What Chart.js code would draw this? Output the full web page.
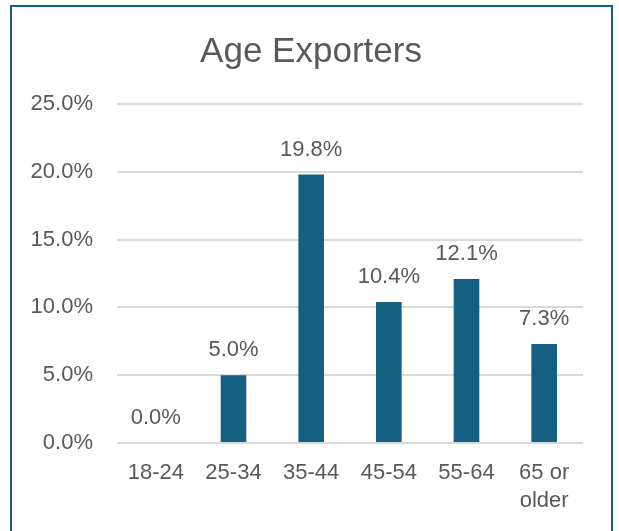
<!DOCTYPE html>
<html>
<head>
<meta charset="utf-8">
<title>Age Exporters</title>
<script src="https://cdn.jsdelivr.net/npm/chart.js@4.4.1/dist/chart.umd.min.js"></script>
<style>
    html, body { margin: 0; padding: 0; background: #fff; overflow: hidden; }
    #wrap { position: relative; width: 619px; height: 531px; }
    #frame {
        position: absolute; left: 10px; top: 5px; width: 603px; height: 560px;
        border: 2px solid #156082; box-sizing: border-box; pointer-events: none;
    }
    #ageChart { position: absolute; left: 0; top: 0; }
</style>
</head>
<body>
<div id="wrap">
    <canvas id="ageChart" width="619" height="531"></canvas>
    <div id="frame"></div>
</div>
<script>
// ------------------------------------------------------------------
//  Data
// ------------------------------------------------------------------
const ageGroups = ['18-24', '25-34', '35-44', '45-54', '55-64', ['65 or', 'older']];
const exporterShare = [0.0, 5.0, 19.8, 10.4, 12.1, 7.3];   // percent
const yTicks = [0, 5, 10, 15, 20, 25];

const TEXT_COLOR = '#595959';
const BAR_COLOR = '#156082';
const FONT = "'Liberation Sans', Arial, sans-serif";

// Value labels above each bar ("19.8%")
const barValueLabels = {
    id: 'barValueLabels',
    afterDatasetsDraw(chart) {
        const ctx = chart.ctx;
        const meta = chart.getDatasetMeta(0);
        ctx.save();
        ctx.font = `22px ${FONT}`;
        ctx.fillStyle = TEXT_COLOR;
        ctx.textAlign = 'center';
        ctx.textBaseline = 'middle';
        meta.data.forEach((bar, i) => {
            const v = chart.data.datasets[0].data[i];
            ctx.fillText(v.toFixed(1) + '%', bar.x, bar.y - 25);
        });
        ctx.restore();
    }
};

new Chart(document.getElementById('ageChart'), {
    type: 'bar',
    data: {
        labels: ageGroups,
        datasets: [{
            label: 'Age Exporters',
            data: exporterShare,
            backgroundColor: BAR_COLOR,
            borderWidth: 0,
            categoryPercentage: 1,
            barPercentage: 0.33
        }]
    },
    options: {
        responsive: false,
        animation: false,
        layout: { padding: { left: 3, right: 0, top: 0, bottom: 0 } },
        plugins: {
            legend: { display: false },
            tooltip: { enabled: false },
            title: {
                display: true,
                text: 'Age Exporters',
                color: TEXT_COLOR,
                font: { family: FONT, size: 35, weight: 'normal', lineHeight: 1.2 },
                padding: { top: 31, bottom: 31 }
            }
        },
        scales: {
            x: {
                grid: { display: false, drawTicks: false },
                border: { display: false },
                ticks: {
                    color: TEXT_COLOR,
                    font: { family: FONT, size: 22, lineHeight: 1.27 },
                    padding: 16,
                    maxRotation: 0,
                    autoSkip: false
                },
                afterFit(scale) { scale.height = 88; }
            },
            y: {
                min: 0,
                max: 25,
                afterBuildTicks(scale) { scale.ticks = yTicks.map(v => ({ value: v })); },
                grid: { color: '#D9D9D9', lineWidth: 2, drawTicks: false },
                border: { display: false },
                ticks: {
                    color: TEXT_COLOR,
                    font: { family: FONT, size: 22 },
                    padding: 24,
                    callback: v => v.toFixed(1) + '%'
                },
                afterFit(scale) { scale.width = 114; }
            },
            // empty right-hand margin so the plot ends short of the frame
            yRight: {
                position: 'right',
                min: 0,
                max: 25,
                grid: { drawOnChartArea: false, drawTicks: false },
                border: { display: false },
                ticks: { display: false },
                afterFit(scale) { scale.width = 36; }
            }
        }
    },
    plugins: [barValueLabels]
});
</script>
</body>
</html>
